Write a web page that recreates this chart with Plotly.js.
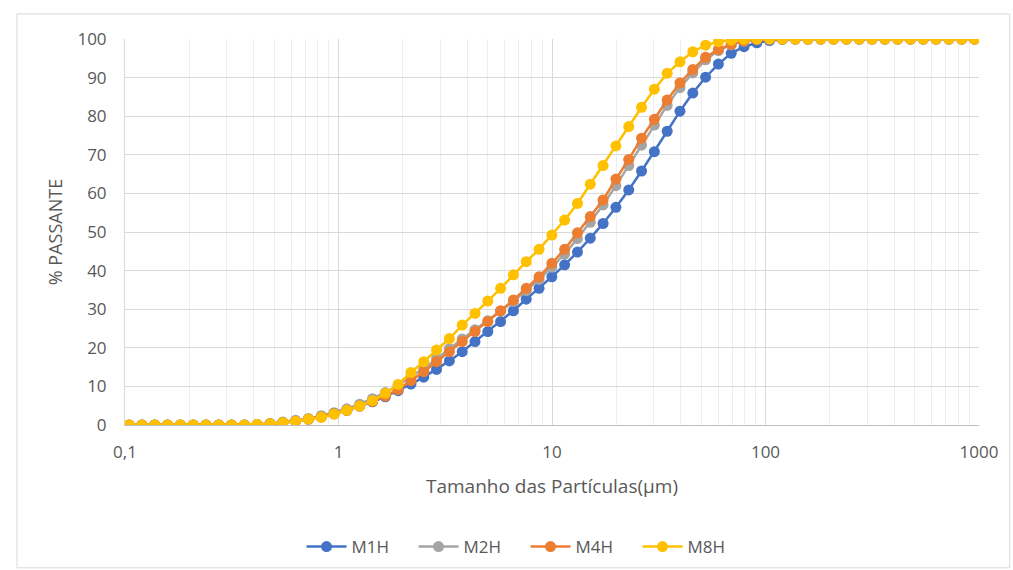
<!DOCTYPE html>
<html>
<head>
<meta charset="utf-8">
<script src="https://cdn.plot.ly/plotly-3.0.1.min.js"></script>
<style>
html,body{margin:0;padding:0;background:#fff;}
#chart{width:1013px;height:570px;}
</style>
</head>
<body>
<div id="chart"></div>
<script>
// Particle sizes (µm)
const sizes = [0.1045,0.1200,0.1378,0.1582,0.1816,0.2085,0.2394,0.2749,0.3156,0.3624,
  0.4161,0.4777,0.5485,0.6298,0.7231,0.8302,0.9532,1.0945,1.2567,1.4429,
  1.6567,1.9022,2.1841,2.5077,2.8793,3.3058,3.7957,4.3581,5.0038,5.7453,
  6.5966,7.574,8.697,9.985,11.46,13.16,15.11,17.35,19.92,22.88,
  26.27,30.16,34.63,39.76,45.65,52.41,60.18,69.10,79.34,91.09,
  104.5,120.0,137.8,158.2,181.6,208.5,239.4,274.9,315.6,362.4,
  416.1,477.7,548.5,629.8,723.1,830.2,953.2];

const M1H = [0,0,0,0,0,0,0,0,0,0,
  0.1,0.3,0.6,1.0,1.5,2.1,2.9,3.8,4.9,6.0,
  7.3,8.9,10.6,12.4,14.4,16.6,19.0,21.6,24.2,26.8,
  29.6,32.6,35.4,38.4,41.5,44.8,48.4,52.2,56.4,60.9,
  65.8,70.8,76.1,81.3,86.0,90.1,93.5,96.3,98.0,99.0,
  99.6,99.9,100,100,100,100,100,100,100,100,
  100,100,100,100,100,100,100];

const M2H = [0,0,0,0,0,0,0,0,0,0,
  0.1,0.4,0.8,1.2,1.7,2.4,3.2,4.2,5.4,6.8,
  8.4,10.3,12.6,14.6,17.2,19.8,22.3,24.7,27.0,29.5,
  32.0,34.8,37.7,40.9,44.3,48.3,52.5,57.0,62.0,67.2,
  72.5,77.7,82.8,87.4,91.2,94.6,97.0,98.5,99.4,99.9,
  100,100,100,100,100,100,100,100,100,100,
  100,100,100,100,100,100,100];

const M4H = [0,0,0,0,0,0,0,0,0,0,
  0.1,0.3,0.6,1.0,1.5,2.1,2.9,3.8,4.9,6.1,
  7.5,9.2,11.5,13.8,16.4,19.0,21.6,24.2,26.8,29.6,
  32.4,35.4,38.4,41.9,45.5,49.8,54.0,58.3,63.7,68.8,
  74.3,79.2,84.2,88.6,92.1,95.3,97.3,98.6,99.5,99.9,
  100,100,100,100,100,100,100,100,100,100,
  100,100,100,100,100,100,100];

const M8H = [0,0,0,0,0,0,0,0,0,0,
  0.1,0.3,0.6,1.0,1.5,2.0,2.8,3.8,4.9,6.3,
  8.2,10.5,13.6,16.4,19.4,22.4,25.9,28.9,32.1,35.4,
  38.9,42.3,45.5,49.2,53.1,57.4,62.4,67.2,72.3,77.3,
  82.3,87.0,91.1,94.1,96.7,98.4,99.3,99.7,99.9,100,
  100,100,100,100,100,100,100,100,100,100,
  100,100,100,100,100,100,100];

const seriesNames = ['M1H','M2H','M4H','M8H'];
const seriesColors = ['#4472C4','#A5A5A5','#ED7D31','#FFC000'];
const seriesData = [M1H, M2H, M4H, M8H];

const xTickVals = [0.1, 1, 10, 100, 1000];
const xTickText = ['0,1', '1', '10', '100', '1000'];
const minorVals = [];
[0.1, 1, 10, 100].forEach(d => { for (let m = 2; m <= 9; m++) minorVals.push(d * m); });

const traces = seriesData.map((ys, i) => ({
  type: 'scatter',
  mode: 'lines+markers',
  name: seriesNames[i],
  x: sizes,
  y: ys,
  line: {color: seriesColors[i], width: 2.5},
  marker: {color: seriesColors[i], size: 11}
}));

const font = '"Open Sans", "Liberation Sans", Arial, sans-serif';
const layout = {
  width: 1013, height: 570,
  margin: {l: 125, r: 34, t: 39, b: 145},
  paper_bgcolor: '#ffffff',
  plot_bgcolor: '#ffffff',
  font: {family: font, size: 17, color: '#595959'},
  showlegend: true,
  legend: {orientation: 'h', x: 0.469, xanchor: 'center', xref: 'paper',
           y: 0.0404, yanchor: 'middle', yref: 'container',
           font: {size: 17, color: '#595959'}, itemwidth: 40, tracegroupgap: 0,
           entrywidth: 57, entrywidthmode: 'pixels'},
  xaxis: {
    type: 'log', range: [-1, 3], automargin: false,
    tickvals: xTickVals, ticktext: xTickText,
    tickfont: {size: 17},
    showgrid: true, gridcolor: '#d9d9d9', gridwidth: 1,
    minor: {tickvals: minorVals, showgrid: true, gridcolor: '#eeeeee', gridwidth: 1, ticks: ''},
    showline: true, linecolor: '#bfbfbf', linewidth: 1,
    zeroline: false, ticks: '', ticklabelstandoff: 12,
    title: {text: 'Tamanho das Partículas(µm)', font: {size: 19, color: '#595959'}, standoff: 17}
  },
  yaxis: {
    range: [0, 100], dtick: 10, automargin: false,
    tickfont: {size: 17},
    showgrid: true, gridcolor: '#d9d9d9', gridwidth: 1,
    showline: true, linecolor: '#d9d9d9', linewidth: 1,
    zeroline: false, ticks: '', ticklabelstandoff: 14,
    title: {text: '% PASSANTE', font: {size: 18, color: '#595959'}, standoff: 10}
  },
  shapes: [{
    type: 'rect', xref: 'paper', yref: 'paper',
    x0: -0.1265, x1: 1.036, y0: -0.37, y1: 1.065,
    line: {color: '#d9d9d9', width: 1}, fillcolor: 'rgba(0,0,0,0)', layer: 'below'
  }]
};

Plotly.newPlot('chart', traces, layout, {displayModeBar: false, staticPlot: true});
</script>
</body>
</html>
